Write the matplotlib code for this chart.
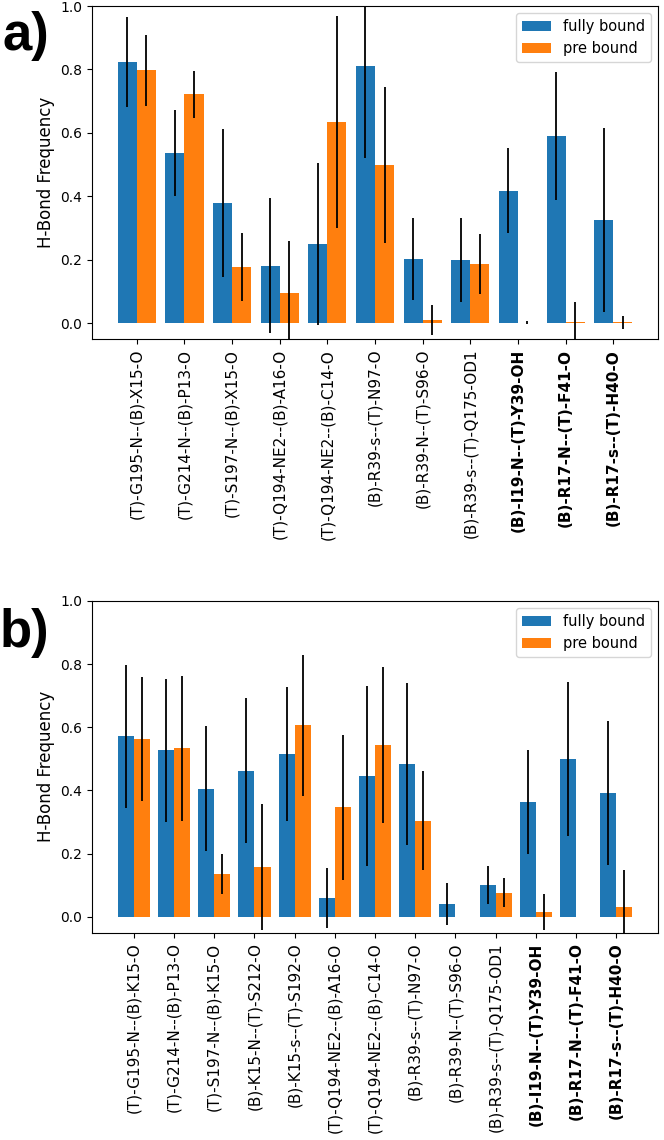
import numpy as np
import matplotlib
matplotlib.use("Agg")
import matplotlib.pyplot as plt

# ---------------- data ----------------
labels_a = ["(T)-G195-N--(B)-X15-O", "(T)-G214-N--(B)-P13-O", "(T)-S197-N--(B)-X15-O",
            "(T)-Q194-NE2--(B)-A16-O", "(T)-Q194-NE2--(B)-C14-O", "(B)-R39-s--(T)-N97-O",
            "(B)-R39-N--(T)-S96-O", "(B)-R39-s--(T)-Q175-OD1", "(B)-I19-N--(T)-Y39-OH",
            "(B)-R17-N--(T)-F41-O", "(B)-R17-s--(T)-H40-O"]
fully_a = [0.824, 0.537, 0.380, 0.181, 0.249, 0.811, 0.203, 0.200, 0.418, 0.591, 0.325]
fully_err_a = [0.141, 0.136, 0.233, 0.213, 0.255, 0.290, 0.129, 0.132, 0.133, 0.202, 0.290]
pre_a = [0.798, 0.722, 0.177, 0.094, 0.635, 0.499, 0.011, 0.186, 0.002, 0.005, 0.003]
pre_err_a = [0.112, 0.074, 0.106, 0.164, 0.334, 0.247, 0.047, 0.094, 0.005, 0.063, 0.020]

labels_b = ["(T)-G195-N--(B)-K15-O", "(T)-G214-N--(B)-P13-O", "(T)-S197-N--(B)-K15-O",
            "(B)-K15-N--(T)-S212-O", "(B)-K15-s--(T)-S192-O", "(T)-Q194-NE2--(B)-A16-O",
            "(T)-Q194-NE2--(B)-C14-O", "(B)-R39-s--(T)-N97-O", "(B)-R39-N--(T)-S96-O",
            "(B)-R39-s--(T)-Q175-OD1", "(B)-I19-N--(T)-Y39-OH", "(B)-R17-N--(T)-F41-O",
            "(B)-R17-s--(T)-H40-O"]
fully_b = [0.571, 0.527, 0.405, 0.463, 0.515, 0.060, 0.445, 0.483, 0.041, 0.101, 0.363, 0.499, 0.392]
fully_err_b = [0.225, 0.226, 0.198, 0.228, 0.213, 0.096, 0.284, 0.257, 0.066, 0.060, 0.164, 0.243, 0.229]
pre_b = [0.563, 0.533, 0.135, 0.159, 0.606, 0.347, 0.544, 0.305, 0.0, 0.077, 0.016, 0.0, 0.032]
pre_err_b = [0.197, 0.230, 0.064, 0.199, 0.222, 0.230, 0.248, 0.156, 0.0, 0.046, 0.058, 0.0, 0.115]

n_bold = 3
series_names = ["fully bound", "pre bound"]
panel_tags = ["a)", "b)"]

BLUE = "#1f77b4"
ORANGE = "#ff7f0e"

fig = plt.figure(figsize=(6.64, 11.4), dpi=100)
ax1 = fig.add_axes([0.1386, 0.7026, 0.8524, 0.2921])
ax2 = fig.add_axes([0.1386, 0.1818, 0.8524, 0.2912])


def draw(ax, labels, fv, fe, pv, pe):
    x = np.arange(len(labels))
    w = 0.4
    ax.bar(x - w / 2, fv, w, yerr=fe, color=BLUE, label=series_names[0],
           error_kw=dict(ecolor="black", elinewidth=1.3, capsize=0))
    ax.bar(x + w / 2, pv, w, yerr=pe, color=ORANGE, label=series_names[1],
           error_kw=dict(ecolor="black", elinewidth=1.3, capsize=0))
    ax.set_xticks(x)
    ax.set_xticklabels(labels, rotation=90, fontsize=11)
    for i, t in enumerate(ax.get_xticklabels()):
        if i >= len(labels) - n_bold:
            t.set_fontweight("bold")
    ax.set_ylim(-0.05, 1.0)
    ax.set_yticks([0.0, 0.2, 0.4, 0.6, 0.8, 1.0])
    ax.tick_params(axis="y", labelsize=10)
    ax.set_ylabel("H-Bond Frequency", fontsize=12)
    ax.legend(loc="upper right", fontsize=10.5)


draw(ax1, labels_a, fully_a, fully_err_a, pre_a, pre_err_a)
draw(ax2, labels_b, fully_b, fully_err_b, pre_b, pre_err_b)

fig.text(2 / 664, 1 - 50 / 1140, panel_tags[0], fontsize=38, fontweight="bold",
         family="Liberation Sans", va="baseline", ha="left")
fig.text(0 / 664, 1 - 647 / 1140, panel_tags[1], fontsize=38, fontweight="bold",
         family="Liberation Sans", va="baseline", ha="left")

fig.savefig("out.png", dpi=100)
